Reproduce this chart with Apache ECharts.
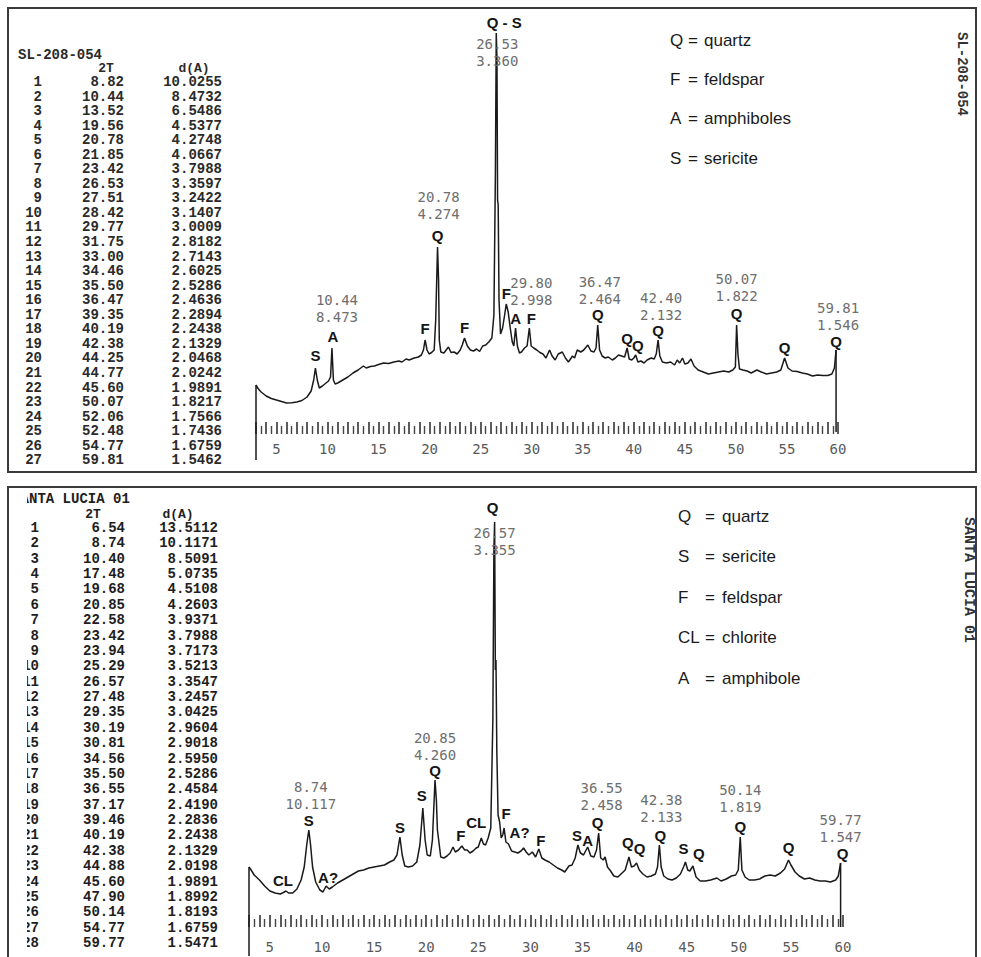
<!DOCTYPE html>
<html><head><meta charset="utf-8">
<script src="https://cdn.jsdelivr.net/npm/echarts@6/dist/echarts.min.js"></script>
<style>html,body{margin:0;padding:0;background:#fff}#c{width:981px;height:957px}</style>
</head><body><div id="c"></div>
<script>
// ---------- DATA: sample SL-208-054 (top) ----------
const topScan = [[3.0,250],[3.2,215],[3.5,180],[4.0,140],[4.5,115],[5.0,100],[5.5,85],[6.0,70],[6.5,72],[7.0,80],[7.5,95],[8.0,130],[8.4,190],[8.65,300],[8.82,420],[9.0,300],[9.2,220],[9.5,240],[9.8,265],[10.1,290],[10.3,330],[10.44,620],[10.58,300],[10.75,260],[11.0,270],[11.5,300],[12.0,330],[12.5,370],[13.0,400],[13.52,440],[13.8,420],[14.2,435],[14.6,440],[15.0,455],[15.5,470],[16.0,465],[16.5,480],[17.0,490],[17.3,480],[17.7,510],[18.0,500],[18.5,520],[18.9,530],[19.2,550],[19.4,600],[19.56,700],[19.75,600],[19.95,560],[20.2,575],[20.45,600],[20.6,900],[20.78,1630],[20.88,1300],[20.95,700],[21.1,580],[21.4,570],[21.85,630],[22.1,575],[22.4,580],[22.7,560],[23.0,600],[23.2,650],[23.42,720],[23.7,640],[24.0,600],[24.3,590],[24.6,610],[24.9,585],[25.2,640],[25.5,650],[25.8,680],[26.1,720],[26.3,950],[26.45,2400],[26.53,3770],[26.6,3500],[26.66,2100],[26.72,2050],[26.8,1100],[26.95,760],[27.15,820],[27.35,950],[27.51,1060],[27.7,980],[27.9,820],[28.1,680],[28.25,640],[28.42,820],[28.6,640],[28.8,570],[29.0,580],[29.3,620],[29.55,640],[29.77,820],[29.95,640],[30.2,620],[30.5,600],[30.8,575],[31.1,560],[31.4,520],[31.75,600],[32.0,540],[32.3,500],[32.6,560],[33.0,580],[33.3,520],[33.6,480],[34.0,540],[34.2,520],[34.46,600],[34.8,580],[35.1,600],[35.5,650],[35.8,590],[36.1,580],[36.3,620],[36.47,850],[36.65,600],[36.9,540],[37.2,520],[37.5,530],[37.9,500],[38.2,520],[38.5,550],[38.8,540],[39.1,530],[39.35,620],[39.55,510],[39.8,500],[40.0,520],[40.19,550],[40.4,480],[40.7,490],[41.0,470],[41.3,500],[41.7,520],[42.0,510],[42.2,560],[42.38,700],[42.55,540],[42.8,480],[43.2,470],[43.6,480],[44.0,450],[44.25,500],[44.5,470],[44.77,520],[45.0,460],[45.3,470],[45.6,510],[45.9,440],[46.3,400],[46.8,380],[47.3,360],[47.8,370],[48.3,380],[48.8,390],[49.3,380],[49.7,400],[49.95,430],[50.07,850],[50.2,560],[50.35,410],[50.7,400],[51.1,390],[51.5,370],[52.06,400],[52.48,380],[53.0,360],[53.5,370],[54.0,380],[54.4,400],[54.77,520],[55.1,420],[55.5,390],[56.0,385],[56.5,370],[57.0,360],[57.5,340],[58.0,350],[58.5,345],[59.0,345],[59.4,360],[59.65,420],[59.81,600]];
const topTableTwoTheta = ['8.82','10.44','13.52','19.56','20.78','21.85','23.42','26.53','27.51','28.42','29.77','31.75','33.00','34.46','35.50','36.47','39.35','40.19','42.38','44.25','44.77','45.60','50.07','52.06','52.48','54.77','59.81'];
const topTableD = ['10.0255','8.4732','6.5486','4.5377','4.2748','4.0667','3.7988','3.3597','3.2422','3.1407','3.0009','2.8182','2.7143','2.6025','2.5286','2.4636','2.2894','2.2438','2.1329','2.0468','2.0242','1.9891','1.8217','1.7566','1.7436','1.6759','1.5462'];
const topPhaseAt = [8.82,10.44,19.56,20.78,23.42,26.53,27.51,28.42,29.77,36.47,39.35,40.19,42.38,50.07,54.77,59.81];
const topPhaseText = ['S','A','F','Q','F','Q - S','F','A','F','Q','Q','Q','Q','Q','Q','Q'];
const topValueAt = [10.44,20.78,26.53,29.77,36.47,42.38,50.07,59.81];
const topValue2T = ['10.44','20.78','26.53','29.80','36.47','42.40','50.07','59.81'];
const topValueD = ['8.473','4.274','3.360','2.998','2.464','2.132','1.822','1.546'];
const topLegendSymbols = ['Q','F','A','S'];
const topLegendNames = ['quartz','feldspar','amphiboles','sericite'];
const topSampleName = 'SL-208-054';

// ---------- DATA: sample SANTA LUCIA 01 (bottom) ----------
const botScan = [[3.0,330],[3.2,300],[3.5,250],[4.0,200],[4.5,140],[5.0,90],[5.5,70],[6.0,60],[6.3,75],[6.54,90],[6.8,70],[7.2,70],[7.6,110],[8.0,200],[8.3,330],[8.55,560],[8.74,700],[8.9,560],[9.1,330],[9.4,180],[9.8,100],[10.1,80],[10.4,140],[10.7,110],[11.0,130],[11.5,170],[12.0,200],[12.5,230],[13.0,260],[13.5,290],[14.0,300],[14.5,320],[15.0,330],[15.5,340],[16.0,350],[16.5,380],[16.9,400],[17.2,450],[17.48,630],[17.7,450],[17.95,340],[18.3,330],[18.7,340],[19.1,380],[19.4,550],[19.68,920],[19.9,600],[20.1,450],[20.4,440],[20.6,600],[20.85,1200],[20.98,1000],[21.08,700],[21.2,600],[21.4,430],[21.7,420],[22.0,440],[22.3,470],[22.58,530],[22.8,480],[23.1,500],[23.42,540],[23.7,500],[23.94,500],[24.2,470],[24.5,490],[24.8,520],[25.0,530],[25.29,620],[25.5,560],[25.7,550],[25.95,620],[26.2,720],[26.4,1800],[26.5,3500],[26.57,3780],[26.64,2300],[26.7,2400],[26.78,1500],[26.9,850],[27.05,780],[27.2,620],[27.35,650],[27.48,720],[27.65,580],[27.9,560],[28.2,490],[28.5,480],[28.8,470],[29.1,490],[29.35,520],[29.6,480],[29.85,450],[30.19,480],[30.5,430],[30.81,510],[31.1,420],[31.4,400],[31.8,380],[32.2,350],[32.6,320],[33.0,300],[33.3,280],[33.7,340],[34.0,350],[34.3,420],[34.56,550],[34.8,470],[35.1,450],[35.5,530],[35.8,440],[36.1,430],[36.35,500],[36.55,670],[36.75,420],[37.0,400],[37.17,430],[37.4,330],[37.7,290],[38.0,240],[38.4,230],[38.8,270],[39.1,300],[39.46,430],[39.7,330],[39.95,340],[40.19,370],[40.45,300],[40.8,260],[41.2,230],[41.6,240],[42.0,260],[42.2,330],[42.38,550],[42.55,330],[42.8,240],[43.2,210],[43.6,200],[44.0,220],[44.4,260],[44.7,330],[44.88,380],[45.1,300],[45.3,290],[45.6,340],[45.9,230],[46.3,190],[46.8,190],[47.3,200],[47.9,220],[48.3,190],[48.8,210],[49.3,240],[49.7,250],[49.95,300],[50.14,630],[50.3,300],[50.6,230],[51.0,200],[51.5,200],[52.0,210],[52.5,240],[53.0,250],[53.5,240],[54.0,270],[54.4,310],[54.77,400],[55.0,350],[55.4,280],[55.8,240],[56.3,210],[56.8,220],[57.3,200],[57.8,190],[58.3,190],[58.8,180],[59.3,200],[59.55,240],[59.77,370]];
const botTableTwoTheta = ['6.54','8.74','10.40','17.48','19.68','20.85','22.58','23.42','23.94','25.29','26.57','27.48','29.35','30.19','30.81','34.56','35.50','36.55','37.17','39.46','40.19','42.38','44.88','45.60','47.90','50.14','54.77','59.77'];
const botTableD = ['13.5112','10.1171','8.5091','5.0735','4.5108','4.2603','3.9371','3.7988','3.7173','3.5213','3.3547','3.2457','3.0425','2.9604','2.9018','2.5950','2.5286','2.4584','2.4190','2.2836','2.2438','2.1329','2.0198','1.9891','1.8992','1.8193','1.6759','1.5471'];
const botPhaseAt = [6.54,8.74,10.4,17.48,19.68,20.85,23.42,25.29,26.57,27.48,29.35,30.81,34.56,35.5,36.55,39.46,40.19,42.38,44.88,45.6,50.14,54.77,59.77];
const botPhaseText = ['CL','S','A?','S','S','Q','F','CL','Q','F','A?','F','S','A','Q','Q','Q','Q','S','Q','Q','Q','Q'];
const botValueAt = [8.74,20.85,26.57,36.55,42.38,50.14,59.77];
const botValue2T = ['8.74','20.85','26.57','36.55','42.38','50.14','59.77'];
const botValueD = ['10.117','4.260','3.355','2.458','2.133','1.819','1.547'];
const botLegendSymbols = ['Q','S','F','CL','A'];
const botLegendNames = ['quartz','sericite','feldspar','chlorite','amphibole'];
const botSampleName = 'SANTA LUCIA 01';

const axisTickLabels = [5,10,15,20,25,30,35,40,45,50,55,60];

// ---------- LAYOUT (pixel offsets of annotations from their peak, not data) ----------
const topPhaseOffset = [[0,-13],[1,-12],[0,-12],[0,-12],[0,-11],[8,-11],[0,-11],[0,-10],[2,-10],[0,-11],[0,-10],[2,-10],[0,-10],[0,-12],[0,-11],[0,-9]];
const topValueOffset = [[5,-40],[1,-42],[1,19],[2,-37],[2,-35],[3,-34],[0,-38],[2,-34]];
const botPhaseOffset = [[-3,-11],[0,-10],[2,-9],[0,-10],[-1,-13],[0,-10],[-1,-11],[-5,-16],[-2,-15],[2,-15],[-4,-16],[2,-9],[-1,-10],[0,-7],[-1,-11],[-1,-15],[3,-15],[1,-10],[-2,-14],[6,-13],[0,-11],[0,-13],[2,-10]];
const botValueOffset = [[2,-35],[0,-34],[0,19],[3,-37],[2,-37],[0,-39],[0,-35]];

const MONO = '"Liberation Mono", "DejaVu Sans Mono", monospace';
const LMONO = '"DejaVu Sans Mono", "Liberation Mono", monospace';
const SANS = '"Liberation Sans", Arial, sans-serif';

function intensityAt(scan, tt) {
  const p = scan.find(d => Math.abs(d[0] - tt) < 1e-6);
  return p ? p[1] : 0;
}
function dropSeries(pt, bottom, idx) {
  return { type: 'line', xAxisIndex: idx, yAxisIndex: idx, symbol: 'none', clip: false, silent: true,
    data: [[pt[0], pt[1]], [pt[0], bottom]], lineStyle: { color: '#1a1a1a', width: 1.5 } };
}
function xAxisCfg(idx, margin) {
  return {
    gridIndex: idx, type: 'value', min: 3, max: 60, interval: 1,
    axisLine: { show: false, onZero: false },
    axisTick: { show: true, inside: true, length: 12, lineStyle: { color: '#333', width: 1.6 } },
    minorTick: { show: true, splitNumber: 2, length: 8, lineStyle: { color: '#444', width: 1.4 } },
    splitLine: { show: false },
    axisLabel: { margin: margin, fontFamily: LMONO, fontSize: 14, color: '#5a5a5a',
      formatter: v => axisTickLabels.includes(Math.round(v)) && Math.abs(v - Math.round(v)) < 1e-6 ? String(Math.round(v)) : '' }
  };
}

// ---------- graphics: frames, tables, legends, side titles ----------
const G = [];
function txt(x, y, text, style, extra) {
  G.push(Object.assign({ type: 'text', x: x, y: y, silent: true,
    style: Object.assign({ text: text, fill: '#222' }, style) }, extra || {}));
}
function table(cfg) {
  const n = cfg.tt.length;
  txt(cfg.titleX, cfg.titleY, cfg.title, { font: 'bold 14px ' + MONO, textVerticalAlign: 'middle', verticalAlign: 'middle', fill: cfg.color });
  txt(cfg.h1X, cfg.headY, '2T', { font: 'bold 13px ' + MONO, textAlign: 'center', align: 'center', textVerticalAlign: 'middle', verticalAlign: 'middle', fill: cfg.color });
  txt(cfg.h2X, cfg.headY, 'd(A)', { font: 'bold 13px ' + MONO, textAlign: 'center', align: 'center', textVerticalAlign: 'middle', verticalAlign: 'middle', fill: cfg.color });
  const idx = [], a = [], b = [];
  for (let i = 0; i < n; i++) { idx.push(String(i + 1)); a.push(cfg.tt[i]); b.push(cfg.d[i]); }
  const common = { font: 'bold 14px ' + MONO, lineHeight: cfg.step, textAlign: 'right', align: 'right', textVerticalAlign: 'top', verticalAlign: 'top', fill: cfg.color };
  const y0 = cfg.row1Y - cfg.step / 2;
  txt(cfg.c0X, y0, idx.join('\n'), common);
  txt(cfg.c1X, y0, a.join('\n'), common);
  txt(cfg.c2X, y0, b.join('\n'), common);
}
G.push({ type: 'rect', silent: true, z: 10, shape: { x: 8, y: 8, width: 968, height: 464 }, style: { fill: 'none', stroke: '#3a3a3a', lineWidth: 2 } });
G.push({ type: 'rect', silent: true, z: 10, shape: { x: 8, y: 487, width: 968, height: 480 }, style: { fill: 'none', stroke: '#3a3a3a', lineWidth: 2 } });

table({ title: topSampleName, titleX: 18, titleY: 55, headY: 68, h1X: 106, h2X: 194, row1Y: 82, step: 14.55,
  c0X: 42, c1X: 124, c2X: 222, tt: topTableTwoTheta, d: topTableD, color: '#2a2a2a' });
table({ title: botSampleName, titleX: 29 - 2 * 8.4, titleY: 499, headY: 514, h1X: 93, h2X: 178, row1Y: 528, step: 15.37,
  c0X: 39, c1X: 125, c2X: 218, tt: botTableTwoTheta, d: botTableD, color: '#1e1e1e' });
// cover simulating the cropped left edge of the lower printout
G.push({ type: 'rect', silent: true, z: 8, shape: { x: 9.5, y: 491, width: 17.5, height: 459 }, style: { fill: '#fff' } });

topLegendSymbols.forEach((s, i) => {
  const y = 40 + i * 39.4;
  const st = { font: '17px ' + SANS, fill: '#1a1a1a', textVerticalAlign: 'middle', verticalAlign: 'middle' };
  txt(670, y, s, st); txt(688, y, '=', st); txt(704, y, topLegendNames[i], st);
});
botLegendSymbols.forEach((s, i) => {
  const y = 516 + i * 40.5;
  const st = { font: '17px ' + SANS, fill: '#1a1a1a', textVerticalAlign: 'middle', verticalAlign: 'middle' };
  txt(678, y, s, st); txt(705, y, '=', st); txt(722, y, botLegendNames[i], st);
});
txt(962, 32, topSampleName, { font: 'bold 14px ' + MONO, fill: '#333', textVerticalAlign: 'middle', verticalAlign: 'middle' }, { rotation: -Math.PI / 2 });
txt(968, 517, botSampleName, { font: 'bold 15px ' + MONO, fill: '#333', textVerticalAlign: 'middle', verticalAlign: 'middle' }, { rotation: -Math.PI / 2 });

const chart = echarts.init(document.getElementById('c'), null, { renderer: 'svg', width: 981, height: 957 });
chart.setOption({
  animation: false,
  backgroundColor: '#fff',
  grid: [
    { left: 256, right: 143, top: 20, bottom: 957 - 434 },
    { left: 249, right: 138, top: 510, bottom: 957 - 927 }
  ],
  xAxis: [xAxisCfg(0, 8), xAxisCfg(1, 13)],
  yAxis: [
    { gridIndex: 0, type: 'value', min: -240, max: 3900, show: false },
    { gridIndex: 1, type: 'value', min: -270, max: 3900, show: false }
  ],
  series: [
    { type: 'line', xAxisIndex: 0, yAxisIndex: 0, data: topScan, symbol: 'none', silent: true, lineStyle: { color: '#1a1a1a', width: 1.5 } },
    dropSeries(topScan[0], -500, 0),
    dropSeries(topScan[topScan.length - 1], -220, 0),
    { type: 'line', xAxisIndex: 1, yAxisIndex: 1, data: botScan, symbol: 'none', silent: true, lineStyle: { color: '#1a1a1a', width: 1.5 } },
    dropSeries(botScan[0], -560, 1),
    dropSeries(botScan[botScan.length - 1], -270, 1)
  ]
});

// peak annotations, anchored to the peaks through the chart's own coordinate system
function annotate(scan, at, texts, offs, gridIndex, style) {
  at.forEach((t, i) => {
    const p = chart.convertToPixel({ gridIndex: gridIndex }, [t, intensityAt(scan, t)]);
    G.push({ type: 'text', silent: true, z: 5, x: p[0] + offs[i][0], y: p[1] + offs[i][1],
      style: Object.assign({ text: texts[i], textAlign: 'center', align: 'center', textVerticalAlign: 'middle', verticalAlign: 'middle' }, style) });
  });
}
const letterStyle = { font: 'bold 15px ' + SANS, fill: '#151515' };
const valueStyle = { font: '14px ' + LMONO, fill: '#6e6e6e', lineHeight: 17 };
annotate(topScan, topPhaseAt, topPhaseText, topPhaseOffset, 0, letterStyle);
annotate(topScan, topValueAt, topValue2T.map((v, i) => v + '\n' + topValueD[i]), topValueOffset, 0, valueStyle);
annotate(botScan, botPhaseAt, botPhaseText, botPhaseOffset, 1, letterStyle);
annotate(botScan, botValueAt, botValue2T.map((v, i) => v + '\n' + botValueD[i]), botValueOffset, 1, valueStyle);

chart.setOption({ graphic: { elements: G } });
</script></body></html>
